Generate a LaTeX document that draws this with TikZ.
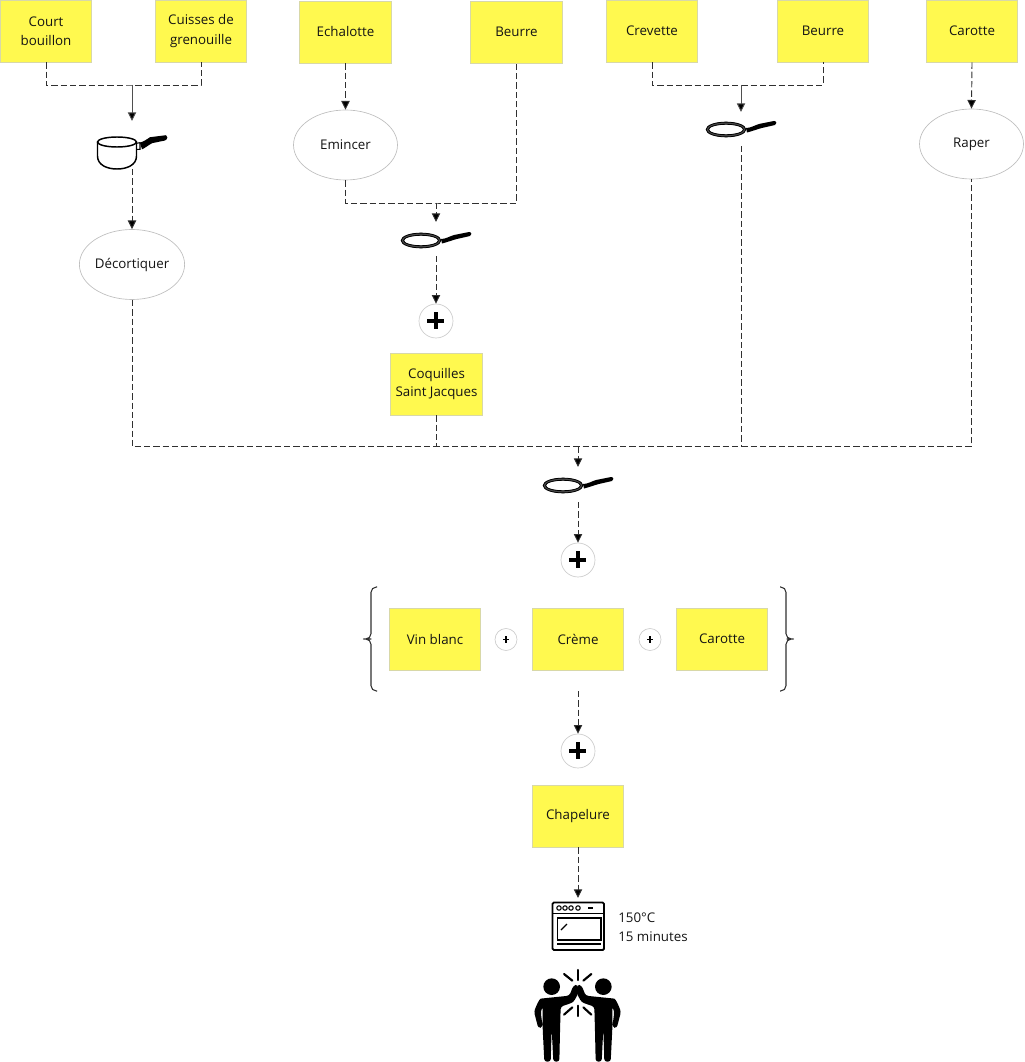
\documentclass[tikz,border=0pt]{standalone}
\usepackage{fontspec}
\setmainfont{Open Sans}
\usetikzlibrary{arrows.meta,shapes.geometric}
\definecolor{notey}{HTML}{FFF94F}
\definecolor{noteb}{HTML}{D8D8A8}
\definecolor{lin}{HTML}{303030}
\tikzset{
 x=0.75pt,y=-0.75pt,
 note/.style={draw=noteb,line width=0.6pt,fill=notey,minimum width=68.5pt,minimum height=46.5pt,inner sep=0pt,align=center,font=\fontsize{10}{14.4}\selectfont,text=black!92},
 task/.style={draw=black!25,line width=0.5pt,fill=white,ellipse,minimum width=78pt,minimum height=52.5pt,inner sep=0pt,font=\fontsize{10}{14.4}\selectfont,text=black!92},
 plusb/.style={draw=black!20,line width=0.5pt,fill=white,circle,minimum size=25.5pt,inner sep=0pt},
 pluss/.style={draw=black!20,line width=0.5pt,fill=white,circle,minimum size=16.5pt,inner sep=0pt},
 link/.style={draw=lin,line width=0.7pt,dash pattern=on 4.8pt off 2.2pt},
 arr/.style={link,-{Triangle[length=6.5pt,width=6.2pt,fill=black]}},
 sarr/.style={draw=lin!85,line width=0.7pt,-{Triangle[length=6.5pt,width=6.2pt,fill=black]}},
 ghost/.style={inner sep=0pt,minimum width=50pt,minimum height=14pt},
 pan/.pic={
  \draw[black!70,line width=1.9pt] (-15,0.5) ellipse (18.7 and 6.3);
  \draw[black,line width=0.6pt] (-15,0.5) ellipse (19.8 and 7.4);
  \draw[black,line width=0.6pt] (-15,0.5) ellipse (17.4 and 5.2);
  \fill[black] (5,-1) .. controls (10,-1) and (13,-3.5) .. (18,-5) -- (33,-8) .. controls (36,-8) and (36,-4.5) .. (34,-4) -- (20,-0.8) .. controls (15,0.7) and (10,2.5) .. (6,3.5) -- cycle;
 },
 pot/.pic={
  \draw[black,line width=1.1pt] (-50,-9) ellipse (19.5 and 5);
  \draw[black,line width=1.1pt] (-69.5,-9) -- (-69.5,5) .. controls (-69.5,14) and (-60,18) .. (-50,18) .. controls (-40,18) and (-30.5,14) .. (-30.5,5) -- (-30.5,-9);
  \draw[black,line width=0.8pt] (-30.5,-7.7) -- (-27,-8.3) -- (-27,-1.7) -- (-30.5,-1.7);
  \fill[black] (-27,-8.3) .. controls (-22,-10) and (-20,-12) .. (-17,-13.8) -- (-1,-15.8) .. controls (1,-15) and (1,-12) .. (-2,-10.5) -- (-15,-7.8) .. controls (-19,-5.5) and (-22,-3) .. (-25,-1.7) -- cycle;
 },
 person/.pic={
  \fill (65,65) circle (25);
  \fill[rounded corners=2pt] (143,58) -- (130,62) -- (118,92) -- (40,100) .. controls (30,101) and (25,110) .. (20,120) -- (12,140) -- (25,190) -- (38,186) -- (32,140) -- (38,125) -- (38,190) -- (43,290) -- (62,290) -- (65,190) -- (70,290) -- (88,290) -- (90,200) -- (92,125) -- (130,112) -- (145,85) -- cycle;
 },
}
\begin{document}
\begin{tikzpicture}
\useasboundingbox (0,0) rectangle (1024,1062);
% notes
\node[note] (court) at (46,31) {Court\\bouillon};
\node[note] (cuisses) at (201,31) {Cuisses de\\grenouille};
\node[note] (echal) at (345.5,32) {Echalotte};
\node[note] (beur1) at (516.5,32) {Beurre};
\node[note] (crev) at (652,31) {Crevette};
\node[note] (beur2) at (823,31) {Beurre};
\node[note] (carot1) at (972,31) {Carotte};
\node[note] (coq) at (436.5,384) {\raisebox{-1pt}{Coquilles}\\\raisebox{-0.7pt}{Saint Jacques}};
\node[note] (vin) at (435,639) {Vin blanc};
\node[note] (creme) at (578,639) {Crème};
\node[note] (carot2) at (722,639) {Carotte};
\node[note] (chap) at (578,816) {\raisebox{-1pt}{Chapelure}};
% tasks
\node[task] (emin) at (345.5,145) {Emincer};
\node[task] (raper) at (971.5,144) {\raisebox{-0.7pt}{Raper}};
\node[task] (deco) at (132,264.5) {\raisebox{-0.7pt}{Décortiquer}};
% plus
\node[plusb] (p1) at (436,321) {};
\node[plusb] (p2) at (578,560) {};
\node[plusb] (p3) at (578,751) {};
\node[pluss] (s1) at (506,639.5) {};
\node[pluss] (s2) at (650,639.5) {};
\foreach \n in {p1,p2,p3}{\fill[black] ([xshift=-6.4pt]\n.center) ++(0,-2) rectangle ++(17,4); \fill[black] ([yshift=6.4pt]\n.center) ++(-2,0) rectangle ++(4,17);}
\foreach \n in {s1,s2}{\fill[black] ([xshift=-2.4pt]\n.center) ++(0,-0.8) rectangle ++(6.4,1.6); \fill[black] ([yshift=2.4pt]\n.center) ++(-0.8,0) rectangle ++(1.6,6.4);}
% utensils
\node[ghost] (pot) at (132,151) {};
\pic at (167,151) {pot};
\node[ghost] (pan1) at (436,240) {};
\pic at (436,240) {pan};
\node[ghost] (pan2) at (741,129) {};
\pic at (741,129) {pan};
\node[ghost] (pan3) at (578,485) {};
\pic at (578,485) {pan};
% junctions
\coordinate (j1) at (132,85);
\coordinate (j2) at (436,203);
\coordinate (j3) at (741,85);
\coordinate (j4) at (578,446.5);
\coordinate (potin) at (132,121);
\coordinate (potout) at (132,169);
\coordinate (pan1in) at (436,222);
\coordinate (pan1out) at (436,256);
\coordinate (pan2in) at (741,112);
\coordinate (pan2out) at (741,146);
\coordinate (pan3in) at (578,467);
\coordinate (pan3out) at (578,502);
\coordinate (mixout) at (578,691);
\coordinate (ovenin) at (578,898);
% connectors
\draw[link] (court.south) |- (j1) -| (cuisses.south);
\draw[sarr] (j1) -- (potin);
\draw[arr] (potout) -- (deco.north);
\draw[arr] (echal.south) -- (emin.north);
\draw[link] (emin.south) |- (j2) -| (beur1.south);
\draw[arr] (j2) -- (pan1in);
\draw[arr] (pan1out) -- (p1.north);
\draw[link] (crev.south) |- (j3) -| (beur2.south);
\draw[sarr] (j3) -- (pan2in);
\draw[arr] (carot1.south) -- (raper.north);
\draw[link] (deco.south) |- (j4) -| (raper.south);
\draw[link] (coq.south) -- (coq.south |- j4);
\draw[link] (pan2out) -- (pan2out |- j4);
\draw[arr] (j4) -- (pan3in);
\draw[arr] (pan3out) -- (p2.north);
\draw[arr] (mixout) -- (p3.north);
\draw[arr] (chap.south) -- (ovenin);
% braces
\draw[lin,line width=0.8pt,rounded corners=4pt] (377,587) -- (371,587) -- (371,639) -- (366,639) -- (371,639) -- (371,691) -- (377,691);
\draw[lin,line width=0.8pt,rounded corners=4pt] (780,587) -- (786,587) -- (786,639) -- (792,639) -- (786,639) -- (786,691) -- (780,691);
% oven
\begin{scope}[black]
\draw[line width=1.4pt,rounded corners=1pt] (552.5,902.5) rectangle (604,950);
\draw[line width=1pt] (552.5,913.5) -- (604,913.5);
\draw[line width=1.2pt] (557.5,918) rectangle (601,940);
\draw[line width=1pt] (557,944) -- (601,944);
\draw[line width=1pt] (561,930) -- (567,924);
\foreach \x in {559,565,571,578}{\draw[line width=0.8pt] (\x,908) circle (2.2);}
\draw[line width=1.2pt] (588,908) -- (593,908);
\end{scope}
\node[inner sep=0pt,align=left,anchor=west,font=\fontsize{10}{14.4}\selectfont,text=black!92] (temp) at (618,927) {150°C\\15 minutes};
% people
\begin{scope}[black,shift={(530,965)},x=0.25pt,y=-0.25pt]
\pic[transform shape] {person};
\begin{scope}[shift={(285,0)},xscale=-1]
\pic[transform shape] {person};
\end{scope}
\draw[line width=1.6pt,line cap=round] (143,15) -- (143,45);
\draw[line width=1.6pt,line cap=round] (102,27) -- (127,47);
\draw[line width=1.6pt,line cap=round] (184,27) -- (160,47);
\draw[line width=1.6pt,line cap=round] (143,122) -- (143,153);
\draw[line width=1.6pt,line cap=round] (102,149) -- (127,127);
\draw[line width=1.6pt,line cap=round] (184,149) -- (160,127);
\end{scope}
\end{tikzpicture}
\end{document}
